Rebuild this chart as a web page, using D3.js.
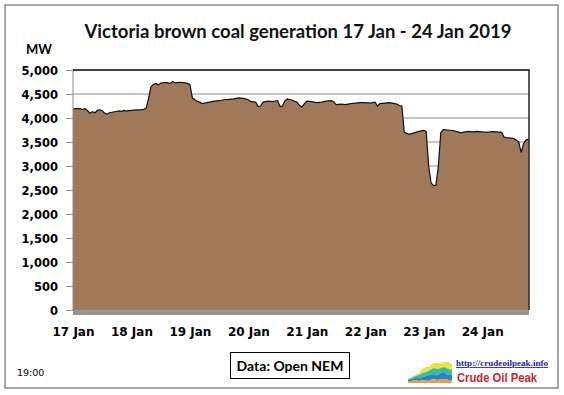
<!DOCTYPE html>
<html>
<head>
<meta charset="utf-8">
<script src="https://cdn.jsdelivr.net/npm/d3@7"></script>
<style>
  body { margin: 0; background: #fff; }
</style>
</head>
<body>
<div id="chart"></div>
<script>
// hours since 17 Jan 2019 00:00
const hours = [0, 2, 4, 5, 6, 7, 8, 9, 10, 11, 12, 13, 14, 15, 16, 17, 18, 19, 20, 21, 22, 24, 26, 28, 29, 30,
  31, 32, 33, 34, 35, 36, 38, 40, 41, 42, 44, 46, 47, 48, 49, 50, 51, 52, 53, 54, 56, 58, 60, 62, 64, 66, 68, 70,
  72, 73, 75, 76, 77, 78, 80, 82, 84, 85, 86, 87, 88, 90, 92, 93, 94, 95, 96, 98, 100, 102, 104, 106, 107, 108,
  110, 112, 114, 116, 118, 120, 122, 124, 125, 126, 128, 130, 132, 133, 134, 135, 136, 137, 138, 140, 142, 144,
  145, 146, 147, 148, 149, 150, 151, 152, 154, 156, 158, 159, 160, 162, 164, 166, 168, 170, 172, 174, 176, 177,
  178, 180, 181, 182, 183, 184, 185, 186, 187];
const mw = [4190, 4200, 4180, 4195, 4150, 4100, 4130, 4110, 4160, 4170, 4150, 4100, 4080, 4110, 4120, 4130, 4140,
  4150, 4140, 4160, 4150, 4160, 4170, 4175, 4180, 4200,
  4400, 4650, 4700, 4720, 4690, 4730, 4740, 4720, 4760, 4730, 4745, 4730, 4720, 4700, 4420, 4380, 4350, 4330,
  4300, 4310, 4330, 4350, 4360, 4380, 4390, 4400, 4420, 4410,
  4380, 4340, 4330, 4240, 4250, 4330, 4350, 4340, 4360, 4240, 4250, 4360, 4400, 4370, 4330, 4260, 4230, 4300,
  4350, 4340, 4320, 4330, 4350, 4360, 4340, 4280,
  4290, 4280, 4300, 4310, 4320, 4320, 4310, 4330, 4250, 4300, 4310, 4320, 4300, 4290, 4260, 4250, 3700, 3680,
  3660, 3690, 3720, 3740,
  3720, 3000, 2650, 2590, 2600, 3000, 3700, 3760, 3750, 3740, 3710, 3690, 3700, 3720, 3710, 3720, 3710, 3700,
  3715, 3710, 3700, 3600,
  3590, 3580, 3570, 3540, 3500, 3280, 3470, 3540, 3560];

const yTicks = [0, 500, 1000, 1500, 2000, 2500, 3000, 3500, 4000, 4500, 5000];
const dayLabels = ["17 Jan", "18 Jan", "19 Jan", "20 Jan", "21 Jan", "22 Jan", "23 Jan", "24 Jan"];

// little logo: stacked layers
const logoX = [0, 1, 2, 3, 4, 5, 6, 7, 8, 9, 10, 11, 12];
const logoBase = [2, 2, 3, 2, 3, 3, 3, 4, 3, 4, 4, 3, 3];
const logoBlue = [1, 2, 2, 3, 3, 4, 5, 5, 5, 6, 6, 5, 5];
const logoGreen = [1, 1, 2, 3, 4, 4, 5, 6, 6, 5, 6, 6, 5];
const logoYellow = [0, 1, 1, 2, 4, 5, 4, 5, 6, 5, 5, 7, 6];

const width = 564, height = 395;
const start = new Date(2019, 0, 17);
const dates = hours.map(h => new Date(start.getTime() + h * 3600e3));

const x = d3.scaleTime()
  .domain([start, dates[dates.length - 1]])
  .range([73, 528.5]);
const y = d3.scaleLinear()
  .domain([0, 5000])
  .range([310, 70]);

const svg = d3.create("svg")
  .attr("width", width)
  .attr("height", height)
  .style("display", "block");

svg.append("rect")
  .attr("x", 5).attr("y", 5)
  .attr("width", 553).attr("height", 383)
  .attr("fill", "#fff")
  .attr("stroke", "#8a8a8a")
  .attr("stroke-width", 1.5);

// gridlines
svg.append("g")
  .selectAll("line")
  .data(yTicks.slice(1, -1))
  .join("line")
  .attr("x1", 73).attr("x2", 529)
  .attr("y1", d => y(d)).attr("y2", d => y(d))
  .attr("stroke", "#8c8c8c");

// floor
svg.append("rect")
  .attr("x", 73).attr("y", 310)
  .attr("width", 456).attr("height", 5)
  .attr("fill", "#959595");

const area = d3.area()
  .x((d, i) => x(dates[i]))
  .y0(y(0))
  .y1(d => y(d));
const line = d3.line()
  .x((d, i) => x(dates[i]))
  .y(d => y(d));

svg.append("path")
  .datum(mw)
  .attr("d", area)
  .attr("fill", "#a0785a");
svg.append("path")
  .datum(mw)
  .attr("d", line)
  .attr("fill", "none")
  .attr("stroke", "#111")
  .attr("stroke-width", 1.2);

// plot frame
svg.append("line").attr("x1", 73).attr("x2", 73).attr("y1", 70).attr("y2", 310).attr("stroke", "#8c8c8c");
svg.append("line").attr("x1", 73).attr("x2", 529.5).attr("y1", 70).attr("y2", 70).attr("stroke", "#000").attr("stroke-width", 1.3);
svg.append("line").attr("x1", 529).attr("x2", 529).attr("y1", 70).attr("y2", 310).attr("stroke", "#000").attr("stroke-width", 1.3);

// y axis
const yAxis = svg.append("g")
  .attr("transform", "translate(73,0)")
  .call(d3.axisLeft(y).tickValues(yTicks).tickFormat(d3.format(",")).tickSize(7).tickPadding(8));
yAxis.select(".domain").remove();
yAxis.selectAll("line").attr("stroke", "#8c8c8c");
yAxis.selectAll("text")
  .attr("font-family", "DejaVu Sans, sans-serif")
  .attr("font-weight", "bold")
  .attr("font-size", 11.5)
  .attr("fill", "#000")
  .attr("dy", "0.4em");

// x axis
const xAxis = svg.append("g")
  .attr("transform", "translate(0,310)")
  .call(d3.axisBottom(x).ticks(d3.timeDay.every(1)).tickFormat((d, i) => dayLabels[i]).tickSize(0).tickPadding(17));
xAxis.select(".domain").remove();
xAxis.selectAll("text")
  .attr("font-family", "DejaVu Sans, sans-serif")
  .attr("font-weight", "bold")
  .attr("font-size", 12)
  .attr("fill", "#000");

// titles
svg.append("text")
  .attr("x", 298).attr("y", 38)
  .attr("text-anchor", "middle")
  .attr("font-family", "Lato, sans-serif")
  .attr("font-weight", "bold")
  .attr("font-size", 18.5)
  .attr("textLength", 427)
  .attr("fill", "#111")
  .text("Victoria brown coal generation 17 Jan - 24 Jan 2019");
svg.append("text")
  .attr("x", 39).attr("y", 54)
  .attr("text-anchor", "middle")
  .attr("font-family", "Lato, sans-serif")
  .attr("font-weight", "bold")
  .attr("font-size", 13)
  .text("MW");

// source box
svg.append("rect")
  .attr("x", 230.5).attr("y", 352.5)
  .attr("width", 119).attr("height", 26)
  .attr("fill", "#fff").attr("stroke", "#000");
svg.append("text")
  .attr("x", 290).attr("y", 371)
  .attr("text-anchor", "middle")
  .attr("font-family", "Lato, sans-serif")
  .attr("font-weight", "bold")
  .attr("font-size", 14)
  .text("Data: Open NEM");

svg.append("text")
  .attr("x", 17).attr("y", 376)
  .attr("font-family", "DejaVu Sans, sans-serif")
  .attr("font-size", 9.5)
  .text("19:00");

// logo
const lx = d3.scaleLinear().domain([0, 12]).range([408, 452]);
const ly = d3.scaleLinear().domain([0, 22]).range([383, 361]);
const stack = [logoBase, logoBlue, logoGreen, logoYellow];
const logoColors = ["#e8a040", "#2f7fd0", "#30c0a0", "#f0e040"];
let cum = logoX.map(() => 0);
const layers = stack.map(s => {
  const lo = cum.slice();
  cum = cum.map((c, i) => c + s[i]);
  return logoX.map((v, i) => [v, lo[i], cum[i]]);
});
svg.append("g")
  .selectAll("path")
  .data(layers.reverse())
  .join("path")
  .attr("d", d3.area().x(d => lx(d[0])).y0(d => ly(d[1])).y1(d => ly(d[2])))
  .attr("fill", (d, i) => logoColors[logoColors.length - 1 - i]);

svg.append("text")
  .attr("x", 456).attr("y", 366)
  .attr("font-family", "Liberation Serif, serif")
  .attr("font-weight", "bold")
  .attr("font-size", 9)
  .attr("fill", "#1a1aa8")
  .attr("text-decoration", "underline")
  .attr("textLength", 92)
  .text("http://crudeoilpeak.info");
svg.append("text")
  .attr("x", 457).attr("y", 382)
  .attr("font-family", "Liberation Sans, sans-serif")
  .attr("font-weight", "bold")
  .attr("font-size", 13)
  .attr("fill", "#cc1f2a")
  .attr("textLength", 80)
  .attr("lengthAdjust", "spacingAndGlyphs")
  .text("Crude Oil Peak");

document.getElementById("chart").appendChild(svg.node());
</script>
</body>
</html>
